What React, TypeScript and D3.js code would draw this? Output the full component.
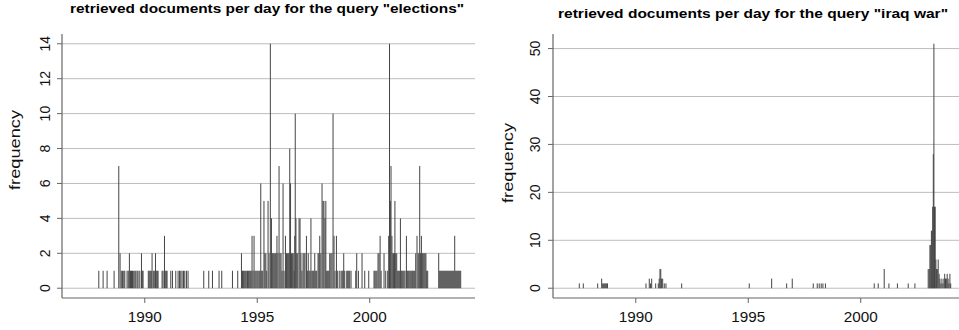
import React from "react";
import * as d3 from "d3";

// ---- data: [year (decimal), documents that day] ----
const electionsEarly: [number, number][] = [
  [1987.956, 1], [1988.147, 1], [1988.324, 1], [1988.636, 1], [1988.844, 7], [1988.902, 2],
  [1988.956, 1], [1989.013, 1], [1989.067, 1], [1989.111, 1], [1989.213, 1], [1989.267, 1],
  [1989.316, 2], [1989.364, 1], [1989.409, 1], [1989.453, 1], [1989.489, 1], [1989.556, 1],
  [1989.6, 1], [1989.658, 1], [1989.702, 1], [1989.778, 1], [1989.853, 2], [1989.889, 1],
  [1989.924, 1], [1990.156, 1], [1990.2, 1], [1990.244, 1], [1990.289, 1], [1990.324, 2],
  [1990.378, 1], [1990.422, 1], [1990.476, 2], [1990.511, 1], [1990.556, 1], [1990.591, 1],
  [1990.769, 1], [1990.813, 1], [1990.876, 3], [1990.911, 1], [1990.956, 1], [1990.991, 1],
  [1991.156, 1], [1991.231, 1], [1991.378, 1], [1991.48, 1], [1991.542, 1], [1991.6, 1],
  [1991.658, 1], [1991.72, 1], [1991.778, 1], [1991.853, 1], [1991.924, 1], [1992.622, 1],
  [1992.844, 1], [1993.009, 1], [1993.302, 1], [1993.422, 1], [1993.898, 1], [1994.133, 1],
];

const electionsMid: [number, number][] = [
  [1994.298, 2], [1994.342, 1], [1994.382, 1], [1994.422, 1], [1994.467, 1], [1994.511, 1],
  [1994.564, 1], [1994.604, 1], [1994.644, 1], [1994.689, 1], [1994.729, 1], [1994.769, 3],
  [1994.813, 1], [1994.858, 3], [1994.898, 1], [1994.942, 1], [1994.987, 1], [1995.031, 1],
  [1995.076, 1], [1995.116, 1], [1995.156, 6], [1995.2, 1], [1995.244, 1], [1995.298, 5],
  [1995.338, 2], [1995.382, 2], [1995.422, 1], [1995.48, 5], [1995.524, 2], [1995.582, 14],
  [1995.631, 4], [1995.671, 2], [1995.711, 2], [1995.756, 2], [1995.8, 2], [1995.84, 2],
  [1995.876, 3], [1995.92, 2], [1995.969, 7], [1996.013, 2], [1996.058, 2], [1996.102, 1],
  [1996.147, 6], [1996.191, 1], [1996.253, 3], [1996.298, 2], [1996.338, 2], [1996.378, 2],
  [1996.413, 2], [1996.444, 8], [1996.48, 6], [1996.52, 2], [1996.56, 2], [1996.6, 2],
  [1996.64, 1], [1996.667, 3], [1996.689, 10], [1996.72, 4], [1996.756, 2], [1996.8, 2],
  [1996.858, 4], [1996.902, 4], [1996.942, 2], [1996.987, 1], [1997.036, 2], [1997.08, 2],
  [1997.124, 2], [1997.187, 3], [1997.227, 1], [1997.267, 2], [1997.307, 1], [1997.347, 1],
  [1997.387, 4], [1997.431, 1], [1997.471, 1], [1997.511, 1], [1997.556, 2], [1997.6, 1],
  [1997.644, 1], [1997.702, 2], [1997.742, 2], [1997.778, 3], [1997.827, 2], [1997.88, 6],
  [1997.924, 5], [1997.964, 5], [1998.013, 4], [1998.049, 5], [1998.089, 1], [1998.133, 1],
  [1998.178, 1], [1998.222, 2], [1998.271, 2], [1998.32, 2], [1998.369, 10], [1998.413, 3],
  [1998.458, 1], [1998.52, 3], [1998.56, 1], [1998.644, 1], [1998.724, 1], [1998.769, 1],
  [1998.809, 1], [1998.844, 2], [1998.889, 1], [1998.978, 1], [1999.022, 1], [1999.067, 1],
  [1999.111, 1], [1999.169, 1], [1999.378, 1], [1999.422, 2], [1999.498, 1], [1999.658, 2],
  [1999.778, 1], [1999.956, 1],
];

const electionsLate: [number, number][] = [
  [2000.191, 1], [2000.231, 1], [2000.276, 1], [2000.32, 1], [2000.369, 2], [2000.413, 2],
  [2000.462, 3], [2000.507, 1], [2000.636, 2], [2000.711, 1], [2000.8, 1], [2000.844, 3],
  [2000.88, 14], [2000.916, 5], [2000.947, 7], [2000.987, 3], [2001.027, 2], [2001.062, 2],
  [2001.098, 2], [2001.12, 5], [2001.156, 2], [2001.2, 2], [2001.244, 1], [2001.289, 1],
  [2001.333, 1], [2001.364, 4], [2001.404, 1], [2001.444, 1], [2001.484, 1], [2001.524, 1],
  [2001.569, 1], [2001.631, 3], [2001.671, 1], [2001.711, 1], [2001.751, 1], [2001.791, 1],
  [2001.831, 1], [2001.871, 1], [2001.911, 1], [2001.956, 1], [2002.0, 1], [2002.044, 2],
  [2002.102, 3], [2002.147, 2], [2002.187, 2], [2002.222, 7], [2002.262, 2], [2002.298, 3],
  [2002.338, 2], [2002.378, 2], [2002.418, 2], [2002.458, 2], [2002.498, 2], [2002.533, 1],
  [2002.578, 1], [2003.067, 2], [2003.111, 1], [2003.156, 1], [2003.2, 1], [2003.244, 1],
  [2003.289, 1], [2003.333, 1], [2003.378, 1], [2003.422, 1], [2003.467, 1], [2003.511, 1],
  [2003.556, 1], [2003.6, 1], [2003.644, 1], [2003.689, 1], [2003.733, 1], [2003.778, 3],
  [2003.822, 1], [2003.867, 1], [2003.911, 1], [2003.956, 1], [2004.0, 1], [2004.044, 1],
];

const iraqEarly: [number, number][] = [
  [1987.489, 1], [1987.667, 1], [1988.307, 1], [1988.484, 2], [1988.529, 1], [1988.573, 1],
  [1988.618, 1], [1988.662, 1], [1988.707, 1], [1988.742, 1], [1990.453, 1], [1990.6, 2],
  [1990.653, 1], [1990.707, 2], [1990.884, 1], [1991.0, 1], [1991.04, 2], [1991.076, 4],
  [1991.111, 4], [1991.147, 2], [1991.196, 2], [1991.267, 1], [1991.342, 1], [1992.04, 1],
];

const iraqMid: [number, number][] = [
  [1995.044, 1], [1996.04, 2], [1996.707, 1], [1996.956, 2], [1997.889, 1], [1998.067, 1],
  [1998.156, 1], [1998.244, 1], [1998.32, 1], [1998.431, 1], [2000.6, 1], [2000.778, 1],
  [2001.044, 4], [2001.253, 1], [2001.631, 1], [2002.111, 1], [2002.409, 1],
];

const iraqWar: [number, number][] = [
  [2003.0, 4], [2003.044, 4], [2003.076, 9], [2003.111, 9], [2003.142, 12], [2003.173, 12],
  [2003.2, 17], [2003.227, 28], [2003.253, 51], [2003.28, 17], [2003.311, 17], [2003.342, 6],
  [2003.373, 4], [2003.404, 4], [2003.444, 6], [2003.484, 3], [2003.52, 2], [2003.564, 1],
  [2003.609, 2], [2003.653, 1], [2003.698, 2], [2003.733, 3], [2003.769, 2], [2003.804, 2],
  [2003.844, 3], [2003.884, 2], [2003.92, 1], [2003.964, 3], [2004.0, 1],
];

const electionsTicks = [0, 2, 4, 6, 8, 10, 12, 14];
const iraqTicks = [0, 10, 20, 30, 40, 50];
const yearTicks = [1990, 1995, 2000];

const electionsTitle = 'retrieved documents per day for the query "elections"';
const iraqTitle = 'retrieved documents per day for the query "iraq war"';

type PanelProps = {
  data: [number, number][];
  yMax: number;
  ticks: number[];
  x0: number;
  title: string;
  titleX: number;
  titleY: number;
  titleLen: number;
  ylabX: number;
  ylabY: number;
  tickLabX: number;
};

const TOP = 34;
const BOTTOM = 298;
const PW = 413;
const FONT = "'Liberation Sans', Arial, Helvetica, sans-serif";

function Panel(p: PanelProps) {
  const xDom: [number, number] = [1987.0 - 0.68, 2004.0 + 0.68];
  const x = d3.scaleLinear().domain(xDom).range([p.x0, p.x0 + PW]);
  const pad = p.yMax * 0.04;
  const y = d3.scaleLinear().domain([-pad, p.yMax + pad]).range([BOTTOM, TOP]);
  return (
    <g>
      <text
        x={p.titleX}
        y={p.titleY}
        textAnchor="middle"
        fontFamily={FONT}
        fontWeight="bold"
        fontSize={13}
        textLength={p.titleLen}
        lengthAdjust="spacingAndGlyphs"
        fill="#000"
      >
        {p.title}
      </text>
      {p.ticks.map((t) => (
        <g key={t}>
          <line x1={p.x0} x2={p.x0 + PW} y1={y(t)} y2={y(t)} stroke="#bdbdbd" strokeWidth={1} />
          <line x1={p.x0 - 5} x2={p.x0} y1={y(t)} y2={y(t)} stroke="#666" strokeWidth={1} />
          <text
            transform={`translate(${p.tickLabX},${y(t)}) rotate(-90)`}
            textAnchor="middle"
            fontFamily={FONT}
            fontSize={14}
            fill="#111"
          >
            {t}
          </text>
        </g>
      ))}
      {p.data.map(([yr, v], i) => (
        <line
          key={i}
          x1={x(yr)}
          x2={x(yr)}
          y1={y(0)}
          y2={y(v)}
          stroke="#454545"
          strokeWidth={1}
        />
      ))}
      <line x1={p.x0} x2={p.x0} y1={TOP} y2={BOTTOM} stroke="#666" strokeWidth={1.2} />
      <line x1={p.x0} x2={p.x0 + PW} y1={BOTTOM} y2={BOTTOM} stroke="#666" strokeWidth={1.2} />
      {yearTicks.map((t) => (
        <g key={t}>
          <line x1={x(t)} x2={x(t)} y1={BOTTOM} y2={BOTTOM + 5} stroke="#666" strokeWidth={1} />
          <text
            x={x(t)}
            y={321.5}
            textAnchor="middle"
            fontFamily={FONT}
            fontSize={14}
            textLength={34}
            lengthAdjust="spacingAndGlyphs"
            fill="#111"
          >
            {t}
          </text>
        </g>
      ))}
      <text
        transform={`translate(${p.ylabX},${p.ylabY}) rotate(-90)`}
        textAnchor="middle"
        fontFamily={FONT}
        fontSize={15}
        textLength={80}
        lengthAdjust="spacingAndGlyphs"
        fill="#111"
      >
        frequency
      </text>
    </g>
  );
}

export default function App() {
  const elections = [...electionsEarly, ...electionsMid, ...electionsLate];
  const iraq = [...iraqEarly, ...iraqMid, ...iraqWar];
  return (
    <svg
      width={959}
      height={330}
      style={{ position: "absolute", left: 0, top: 0, background: "#fff" }}
    >
      <rect width={959} height={330} fill="#fff" />
      <Panel
        data={elections}
        yMax={14}
        ticks={electionsTicks}
        x0={62}
        title={electionsTitle}
        titleX={267}
        titleY={13}
        titleLen={394}
        ylabX={20}
        ylabY={150}
        tickLabX={50}
      />
      <Panel
        data={iraq}
        yMax={51}
        ticks={iraqTicks}
        x0={553}
        title={iraqTitle}
        titleX={753}
        titleY={17.5}
        titleLen={390}
        ylabX={513}
        ylabY={163}
        tickLabX={540}
      />
    </svg>
  );
}
